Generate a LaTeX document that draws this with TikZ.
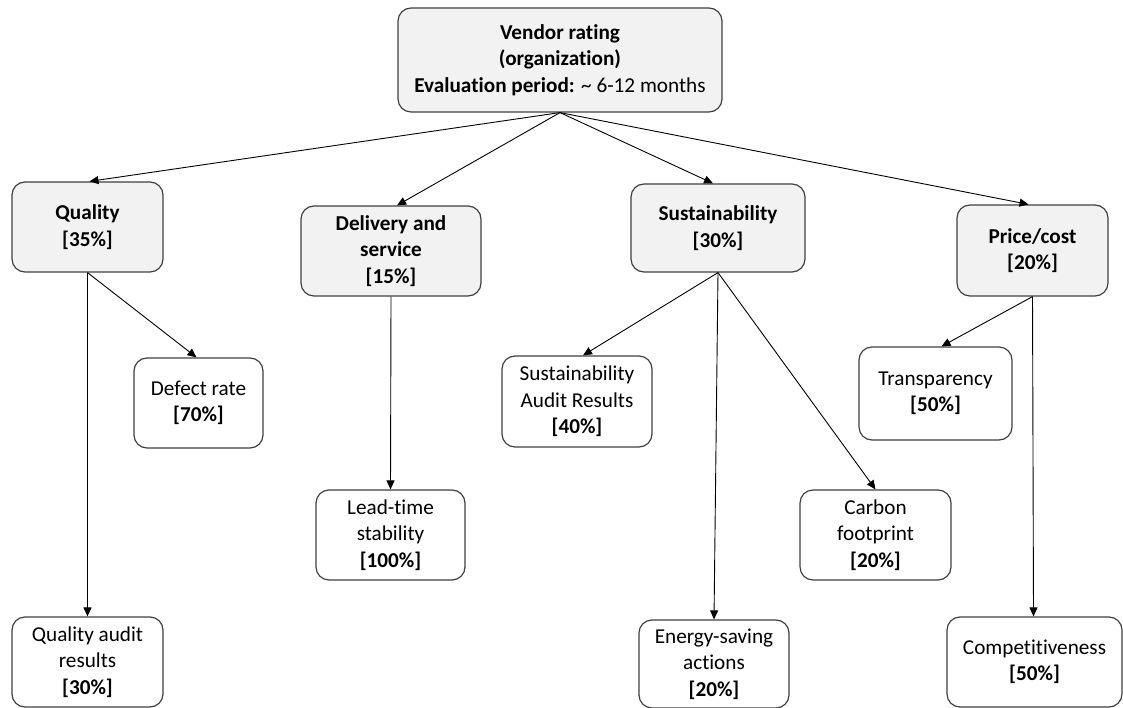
\documentclass[tikz,border=0pt]{standalone}
\usepackage{fontspec}
\setmainfont{Carlito}[Ligatures={NoCommon}]
\usetikzlibrary{arrows.meta}
\definecolor{boxfill}{HTML}{F2F2F2}
\definecolor{boxline}{HTML}{404040}
\begin{document}
\begin{tikzpicture}[x=1pt,y=-1pt,
  font=\fontsize{21.2pt}{26.5pt}\selectfont,
  box/.style={draw=boxline, line width=1.2pt, rounded corners=13pt,
    align=center, inner sep=0pt, fill=white},
  mainbox/.style={box, fill=boxfill},
  link/.style={line width=0.9pt, -{Triangle[length=9pt,width=8pt]}}]
\useasboundingbox (0,0) rectangle (1123,708);

% top node
\node[mainbox, minimum width=324pt, minimum height=104pt] (root) at (560,60)
  {\textbf{Vendor rating}\\\textbf{(organization)}\\\textbf{Evaluation period:} \textasciitilde{} 6-12 months};

% criteria
\node[mainbox, minimum width=151pt, minimum height=90pt] (qual) at (87.5,227)
  {\textbf{Quality}\\\textbf{[35\%]}};
\node[mainbox, minimum width=180pt, minimum height=90pt] (deliv) at (391,251)
  {\textbf{Delivery and}\\\textbf{service}\\\textbf{[15\%]}};
\node[mainbox, minimum width=174pt, minimum height=88pt] (sust) at (718,228)
  {\textbf{Sustainability}\\\textbf{[30\%]}};
\node[mainbox, minimum width=151pt, minimum height=91pt] (price) at (1032.5,250.5)
  {\textbf{Price/cost}\\\textbf{[20\%]}};

% sub-criteria
\node[box, minimum width=129pt, minimum height=90pt] (defect) at (198.5,403)
  {Defect rate\\\textbf{[70\%]}};
\node[box, minimum width=151pt, minimum height=90pt] (qaudit) at (87.5,662)
  {Quality audit\\results\\\textbf{[30\%]}};
\node[box, minimum width=149pt, minimum height=90pt] (lead) at (390.5,535)
  {Lead-time\\stability\\\textbf{[100\%]}};
\node[box, minimum width=150pt, minimum height=91pt] (saudit) at (577,401.5)
  {Sustainability\\Audit Results\\\textbf{[40\%]}};
\node[box, minimum width=150pt, minimum height=88pt] (energy) at (714,664)
  {Energy-saving\\actions\\\textbf{[20\%]}};
\node[box, minimum width=151pt, minimum height=90pt] (carbon) at (875.5,535)
  {Carbon\\footprint\\\textbf{[20\%]}};
\node[box, minimum width=153pt, minimum height=93pt] (transp) at (935.5,393.5)
  {Transparency\\\textbf{[50\%]}};
\node[box, minimum width=175pt, minimum height=90pt] (compet) at (1034.5,662)
  {Competitiveness\\\textbf{[50\%]}};

% connectors
\draw[link] (root.south) -- ([xshift=2pt]qual.north);
\draw[link] (root.south) -- ([xshift=6pt]deliv.north);
\draw[link] (root.south) -- ([xshift=-5pt]sust.north);
\draw[link] (root.south) -- ([xshift=-4pt]price.north);

\draw[link] (qual.south) -- ([xshift=-2pt]defect.north);
\draw[link] (qual.south) -- (qaudit.north);
\draw[link] (deliv.south) -- (lead.north);
\draw[link] (sust.south) -- ([xshift=6pt]saudit.north);
\draw[link] (sust.south) -- (energy.north);
\draw[link] (sust.south) -- (carbon.north);
\draw[link] (price.south) -- ([xshift=6pt]transp.north);
\draw[link] (price.south) -- ([xshift=-1pt]compet.north);
\end{tikzpicture}
\end{document}
